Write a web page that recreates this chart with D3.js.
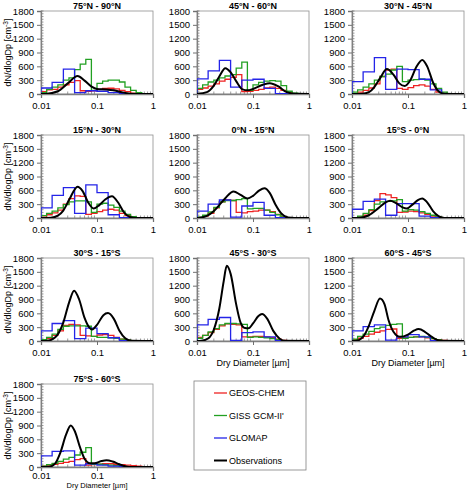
<!DOCTYPE html>
<html>
<head>
<meta charset="utf-8">
<script src="https://cdn.jsdelivr.net/npm/d3@7"></script>
<style>
body { margin: 0; background: #fff; }
text { font-family: "Liberation Sans", Arial, sans-serif; fill: #000; }
</style>
</head>
<body>
<svg id="chart" width="471" height="490"></svg>
<script>
const panelTitles = ['75°N - 90°N', '45°N - 60°N', '30°N - 45°N', '15°N - 30°N', '0°N - 15°N',
    '15°S - 0°N', '30°S - 15°S', '45°S - 30°S', '60°S - 45°S', '75°S - 60°S'];

// bin edges (dry diameter, um)
const fineEdges = [0.01, 0.0126, 0.0158, 0.02, 0.0251, 0.0316, 0.0398, 0.0501, 0.0631, 0.0794,
    0.1, 0.126, 0.158, 0.2, 0.251, 0.316, 0.398, 0.501, 0.631, 0.794, 1];
const glomapEdges = [0.01, 0.0158, 0.0251, 0.0398, 0.0631, 0.1, 0.158, 0.251, 0.398, 0.631, 1];

const geosChem = [
    [50, 90, 100, 150, 200, 250, 290, 70, 60, 70, 100, 120, 125, 110, 80, 50, 20, 10, 5, 5],
    [100, 130, 170, 220, 280, 320, 360, 420, 50, 60, 80, 100, 130, 150, 120, 80, 30, 10, 5, 3],
    [10, 40, 80, 130, 220, 380, 520, 540, 120, 100, 140, 180, 200, 170, 100, 40, 10, 5, 2, 0],
    [20, 70, 110, 170, 300, 420, 480, 470, 80, 100, 140, 170, 190, 170, 100, 50, 15, 5, 2, 0],
    [10, 40, 100, 220, 350, 390, 380, 120, 110, 140, 150, 170, 170, 140, 80, 30, 10, 3, 0, 0],
    [5, 20, 60, 160, 380, 530, 500, 440, 120, 130, 150, 140, 110, 80, 40, 15, 5, 0, 0, 0],
    [20, 60, 120, 220, 340, 360, 350, 120, 110, 100, 130, 140, 120, 80, 40, 15, 5, 0, 0, 0],
    [80, 120, 180, 250, 330, 370, 360, 350, 90, 90, 100, 100, 90, 70, 40, 15, 5, 0, 0, 0],
    [30, 60, 100, 150, 190, 220, 250, 260, 60, 70, 80, 90, 90, 70, 50, 30, 15, 5, 2, 0],
    [20, 40, 60, 80, 100, 120, 160, 180, 40, 50, 60, 70, 70, 60, 50, 40, 30, 20, 10, 5]
];

const gissGcm = [
    [30, 100, 150, 200, 300, 350, 530, 650, 750, 80, 230, 280, 300, 300, 260, 150, 80, 30, 10, 5],
    [120, 200, 260, 300, 350, 390, 420, 560, 690, 80, 200, 250, 280, 290, 280, 180, 60, 20, 5, 2],
    [40, 90, 150, 220, 300, 380, 430, 520, 600, 270, 300, 310, 330, 300, 220, 120, 40, 10, 3, 0],
    [50, 100, 150, 220, 290, 350, 370, 370, 350, 120, 300, 320, 280, 230, 150, 80, 30, 10, 3, 0],
    [20, 60, 130, 230, 350, 380, 380, 400, 420, 200, 210, 210, 170, 120, 70, 25, 5, 0, 0, 0],
    [10, 40, 100, 180, 300, 350, 360, 370, 400, 150, 180, 170, 140, 100, 60, 20, 5, 0, 0, 0],
    [30, 80, 150, 250, 320, 330, 330, 330, 320, 100, 80, 80, 70, 60, 40, 20, 5, 0, 0, 0],
    [60, 120, 200, 270, 350, 380, 380, 370, 360, 80, 90, 80, 70, 50, 30, 10, 5, 0, 0, 0],
    [40, 100, 150, 210, 270, 300, 340, 360, 370, 60, 80, 90, 100, 80, 50, 25, 10, 3, 0, 0],
    [20, 50, 80, 120, 170, 210, 260, 320, 420, 60, 60, 50, 40, 30, 20, 10, 5, 0, 0, 0]
];

const glomap = [
    [130, 250, 540, 30, 70, 60, 30, 5, 0, 0],
    [330, 500, 730, 150, 300, 320, 120, 10, 0, 0],
    [270, 480, 790, 100, 540, 530, 320, 90, 5, 0],
    [220, 490, 660, 100, 720, 550, 70, 10, 0, 0],
    [150, 300, 390, 20, 260, 340, 60, 5, 0, 0],
    [190, 360, 410, 60, 310, 310, 40, 5, 0, 0],
    [220, 380, 440, 50, 280, 160, 70, 5, 0, 0],
    [350, 470, 510, 15, 180, 200, 90, 10, 0, 0],
    [220, 310, 350, 20, 90, 140, 90, 10, 0, 0],
    [240, 340, 350, 40, 70, 40, 20, 5, 0, 0]
];

// observed size distributions, [diameter, dN/dlogDp]
const observations = [
    [[0.01, 0], [0.012, 2], [0.02, 60], [0.03, 230], [0.045, 390], [0.06, 290], [0.08, 160], [0.1, 110], [0.15, 100], [0.2, 80], [0.3, 30], [0.5, 2], [1, 0]],
    [[0.01, 5], [0.015, 40], [0.02, 180], [0.025, 380], [0.032, 560], [0.04, 470], [0.05, 280], [0.065, 100], [0.08, 80], [0.1, 110], [0.15, 200], [0.2, 235], [0.28, 170], [0.4, 40], [0.6, 3], [1, 0]],
    [[0.01, 0], [0.015, 5], [0.02, 40], [0.025, 150], [0.032, 350], [0.042, 540], [0.055, 420], [0.07, 230], [0.087, 175], [0.11, 300], [0.14, 580], [0.18, 740], [0.22, 600], [0.28, 250], [0.35, 60], [0.45, 5], [1, 0]],
    [[0.01, 0], [0.015, 5], [0.02, 50], [0.025, 160], [0.032, 400], [0.045, 680], [0.055, 590], [0.07, 330], [0.087, 205], [0.11, 280], [0.14, 400], [0.185, 470], [0.24, 330], [0.3, 130], [0.4, 15], [0.5, 0], [1, 0]],
    [[0.01, 0], [0.012, 10], [0.016, 60], [0.02, 150], [0.025, 280], [0.032, 430], [0.045, 575], [0.06, 500], [0.08, 425], [0.1, 480], [0.13, 600], [0.16, 645], [0.2, 540], [0.25, 300], [0.32, 100], [0.42, 10], [0.55, 0], [1, 0]],
    [[0.01, 0], [0.014, 5], [0.02, 60], [0.03, 220], [0.04, 340], [0.048, 375], [0.06, 330], [0.08, 230], [0.095, 205], [0.12, 290], [0.15, 390], [0.18, 425], [0.22, 340], [0.28, 150], [0.35, 40], [0.45, 0], [1, 0]],
    [[0.01, 0], [0.013, 5], [0.018, 80], [0.025, 400], [0.032, 850], [0.039, 1090], [0.048, 900], [0.06, 500], [0.072, 300], [0.082, 250], [0.1, 350], [0.13, 560], [0.157, 605], [0.2, 480], [0.25, 230], [0.32, 60], [0.42, 3], [1, 0]],
    [[0.01, 0], [0.012, 5], [0.016, 60], [0.02, 250], [0.025, 700], [0.03, 1300], [0.034, 1630], [0.04, 1450], [0.05, 800], [0.06, 400], [0.072, 280], [0.083, 275], [0.1, 380], [0.125, 540], [0.145, 585], [0.18, 480], [0.23, 220], [0.3, 50], [0.38, 3], [1, 0]],
    [[0.01, 0], [0.012, 5], [0.016, 100], [0.02, 330], [0.025, 650], [0.0316, 920], [0.038, 800], [0.045, 450], [0.055, 200], [0.072, 90], [0.1, 140], [0.13, 230], [0.155, 258], [0.2, 200], [0.25, 110], [0.32, 30], [0.4, 3], [1, 0]],
    [[0.01, 0], [0.014, 5], [0.018, 80], [0.022, 300], [0.028, 700], [0.034, 900], [0.04, 780], [0.05, 420], [0.06, 180], [0.075, 80], [0.09, 80], [0.12, 130], [0.148, 148], [0.19, 120], [0.25, 60], [0.32, 15], [0.4, 2], [1, 0]]
];

const yTicks = [0, 300, 600, 900, 1200, 1500, 1800];
const xTicks = [0.01, 0.1, 1];
const xTickLabels = ['0.01', '0.1', '1'];

const legendItems = [
    {name: 'GEOS-CHEM', color: '#ee2222', width: 1.3},
    {name: 'GISS GCM-II\'', color: '#22a022', width: 1.3},
    {name: 'GLOMAP', color: '#2424e8', width: 1.3},
    {name: 'Observations', color: '#000', width: 2}
];

const svg = d3.select('#chart');
const colX = [41, 197, 352];
const rowY = [11, 135, 258, 384];
const pw = 112, ph = 83;

const x = d3.scaleLog().domain([0.01, 1]).range([0, pw]);
const y = d3.scaleLinear().domain([0, 1800]).range([ph, 0]);

function stepData(edges, values) {
    const pts = [[edges[0], 0]];
    values.forEach((v, i) => pts.push([edges[i], v]));
    pts.push([edges[edges.length - 1], values[values.length - 1]]);
    return pts;
}

const stepLine = d3.line().x(d => x(d[0])).y(d => y(d[1])).curve(d3.curveStepAfter);
const smoothLine = d3.line().x(d => x(d[0])).y(d => y(d[1])).curve(d3.curveMonotoneX);

const minorX = [];
[0.01, 0.1].forEach(dec => { for (let k = 2; k <= 9; k++) minorX.push(dec * k); });
const minorY = d3.range(0, 1801, 60);

panelTitles.forEach((title, i) => {
    const col = i % 3, row = Math.floor(i / 3);
    const last = i === 9;
    const g = svg.append('g').attr('transform', `translate(${colX[col]},${rowY[row]})`);

    g.append('clipPath').attr('id', 'clip' + i)
        .append('rect').attr('width', pw).attr('height', ph + 1).attr('y', -1);

    // frame
    g.append('rect').attr('width', pw).attr('height', ph)
        .attr('fill', 'none').attr('stroke', '#909090').attr('stroke-width', 0.8);

    // minor ticks
    g.selectAll('.mx').data(minorX).enter().append('line')
        .attr('x1', d => x(d)).attr('x2', d => x(d))
        .attr('y1', ph).attr('y2', ph - 2.5)
        .attr('stroke', '#707070').attr('stroke-width', 0.7);
    g.selectAll('.my').data(minorY).enter().append('line')
        .attr('x1', 0).attr('x2', 2.5)
        .attr('y1', d => y(d)).attr('y2', d => y(d))
        .attr('stroke', '#707070').attr('stroke-width', 0.7);

    // axes
    const xAxis = d3.axisBottom(x).tickValues(xTicks).tickFormat((d, j) => xTickLabels[j])
        .tickSize(4).tickPadding(last ? 1.5 : 4);
    const yAxis = d3.axisLeft(y).tickValues(yTicks).tickFormat(d3.format('d')).tickSize(4).tickPadding(3);
    const gx = g.append('g').attr('transform', `translate(0,${ph})`).call(xAxis);
    const gy = g.append('g').call(yAxis);
    [gx, gy].forEach(a => {
        a.select('.domain').attr('stroke', '#808080').attr('stroke-width', 1.3);
        a.selectAll('.tick line').attr('stroke', '#707070');
        a.selectAll('text').style('font-size', '9.5px').attr('fill', '#111');
    });

    const plot = g.append('g').attr('clip-path', `url(#clip${i})`);
    plot.append('path').datum(stepData(fineEdges, geosChem[i])).attr('d', stepLine)
        .attr('fill', 'none').attr('stroke', legendItems[0].color).attr('stroke-width', 1.3);
    plot.append('path').datum(stepData(fineEdges, gissGcm[i])).attr('d', stepLine)
        .attr('fill', 'none').attr('stroke', legendItems[1].color).attr('stroke-width', 1.3);
    plot.append('path').datum(stepData(glomapEdges, glomap[i])).attr('d', stepLine)
        .attr('fill', 'none').attr('stroke', legendItems[2].color).attr('stroke-width', 1.3);
    plot.append('path').datum(observations[i]).attr('d', smoothLine)
        .attr('fill', 'none').attr('stroke', '#000').attr('stroke-width', 2);

    g.append('text').attr('x', pw / 2).attr('y', -2.5).attr('text-anchor', 'middle')
        .style('font-size', '9px').style('font-weight', 'bold').text(title);

    if (col === 0) {
        const t = g.append('text').attr('transform', `translate(-30,${ph / 2}) rotate(-90)`)
            .attr('text-anchor', 'middle').style('font-size', '9px');
        t.append('tspan').text('dN/dlogDp [cm');
        t.append('tspan').attr('baseline-shift', 'super').style('font-size', '6.5px').text('-3');
        t.append('tspan').text(']');
    }
    if (i >= 7) {
        g.append('text').attr('x', pw / 2).attr('y', last ? ph + 21.3 : ph + 24.5)
            .attr('text-anchor', 'middle')
            .style('font-size', last ? '7.5px' : '9px').text('Dry Diameter [µm]');
    }
});

// legend
const lg = svg.append('g').attr('transform', 'translate(194,381)');
lg.append('rect').attr('width', 112).attr('height', 89)
    .attr('fill', '#fff').attr('stroke', '#808080').attr('stroke-width', 0.8);
legendItems.forEach((item, k) => {
    const yy = 12 + k * 22.5;
    lg.append('line').attr('x1', 20).attr('x2', 33).attr('y1', yy).attr('y2', yy)
        .attr('stroke', item.color).attr('stroke-width', item.width);
    lg.append('text').attr('x', 35).attr('y', yy + 3.2).style('font-size', '9px').text(item.name);
});
</script>
</body>
</html>
